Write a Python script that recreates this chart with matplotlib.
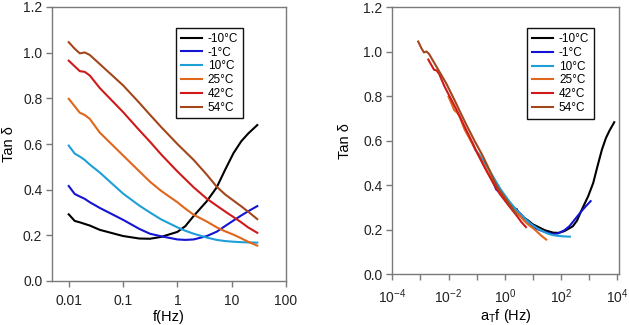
"""Tan delta vs frequency for six temperatures, raw sweep and shifted master curve."""

import numpy as np
import matplotlib
matplotlib.use("Agg")
import matplotlib.pyplot as plt

# ---------------------------------------------------------------------------
# Data
# ---------------------------------------------------------------------------

temperatures = ["-10°C", "-1°C", "10°C", "25°C", "42°C", "54°C"]
colors = ["#000000", "#1414d4", "#1e9fd8", "#e0661c", "#d01a1a", "#a4461c"]

freq_hz = [0.01, 0.0129, 0.016, 0.0197, 0.0244, 0.0373, 0.1, 0.2, 0.313,
           0.5, 1.0, 1.4, 2.0, 3.5, 5.3, 7.5, 10.8, 15.0, 20.0, 29.6]

tan_m10 = [0.292, 0.263, 0.257, 0.250, 0.243, 0.224, 0.197, 0.186, 0.185,
           0.193, 0.215, 0.240, 0.285, 0.350, 0.410, 0.485, 0.560, 0.612,
           0.645, 0.683]
tan_m1 = [0.416, 0.381, 0.370, 0.360, 0.345, 0.320, 0.268, 0.228, 0.207,
          0.196, 0.182, 0.180, 0.182, 0.197, 0.216, 0.240, 0.265, 0.287,
          0.305, 0.328]
tan_10 = [0.593, 0.558, 0.545, 0.530, 0.510, 0.475, 0.383, 0.330, 0.300,
          0.270, 0.235, 0.220, 0.207, 0.190, 0.180, 0.175, 0.172, 0.170,
          0.169, 0.168]
tan_25 = [0.798, 0.765, 0.737, 0.727, 0.710, 0.650, 0.550, 0.480, 0.435,
          0.395, 0.345, 0.317, 0.290, 0.260, 0.235, 0.218, 0.203, 0.187,
          0.172, 0.155]
tan_42 = [0.965, 0.940, 0.919, 0.916, 0.900, 0.845, 0.740, 0.660, 0.610,
          0.555, 0.480, 0.446, 0.410, 0.360, 0.330, 0.305, 0.280, 0.257,
          0.235, 0.211]
tan_54 = [1.046, 1.017, 0.997, 1.001, 0.990, 0.950, 0.857, 0.780, 0.728,
          0.675, 0.600, 0.566, 0.530, 0.465, 0.413, 0.380, 0.352, 0.327,
          0.304, 0.271]

# horizontal shift factors log10(aT), reference temperature 25 °C
log_shift = [2.42, 1.58, 0.84, 0.0, -0.72, -1.08]

left_ticks = [0.01, 0.1, 1, 10, 100]
left_tick_labels = ["0.01", "0.1", "1", "10", "100"]
right_tick_exps = [-4, -3, -2, -1, 0, 1, 2, 3, 4]
y_ticks = [0.0, 0.2, 0.4, 0.6, 0.8, 1.0, 1.2]

FRAME = "#7a7a7a"


def _style(ax):
    for sp in ax.spines.values():
        sp.set_color(FRAME)
        sp.set_linewidth(1.0)
    ax.tick_params(direction="out", length=4.5, width=1.0, color=FRAME,
                   labelsize=10, labelcolor="#222222")
    ax.tick_params(axis="x", pad=5)
    ax.tick_params(axis="y", pad=2.5)
    ax.set_ylim(0.0, 1.2)
    ax.set_yticks(y_ticks)
    ax.set_yticklabels([f"{v:.1f}" for v in y_ticks])
    ax.minorticks_off()


def _legend(ax, anchor):
    leg = ax.legend(loc="upper right", bbox_to_anchor=anchor, fontsize=8.5,
                    frameon=True, fancybox=False, edgecolor="#111111",
                    framealpha=1.0, borderpad=0.4, labelspacing=0.15,
                    handlelength=1.8, handletextpad=0.5, borderaxespad=0.0)
    leg.get_frame().set_linewidth(1.0)


def main():
    plt.rcParams["font.family"] = ["Liberation Sans", "DejaVu Sans"]
    plt.rcParams["mathtext.fontset"] = "custom"
    plt.rcParams["mathtext.rm"] = "Liberation Sans"
    plt.rcParams["mathtext.it"] = "Liberation Sans:italic"
    plt.rcParams["mathtext.default"] = "regular"

    series = [tan_m10, tan_m1, tan_10, tan_25, tan_42, tan_54]
    f = np.asarray(freq_hz)

    fig = plt.figure(figsize=(6.29, 3.25), dpi=100)
    ax1 = fig.add_axes([52 / 629, 44 / 325, 234 / 629, 274 / 325])
    ax2 = fig.add_axes([392.3 / 629, 51 / 325, 226.7 / 629, 266.7 / 325])

    # raw frequency sweeps
    for lab, col, vals in zip(temperatures, colors, series):
        ax1.plot(f, vals, color=col, lw=1.5, label=lab)
    ax1.set_xscale("log")
    ax1.set_xlim(0.00492, 100)
    _style(ax1)
    ax1.set_xticks(left_ticks)
    ax1.set_xticklabels(left_tick_labels)
    ax1.minorticks_off()
    ax1.set_xlabel("f(Hz)", fontsize=10.5, labelpad=1)
    ax1.set_ylabel("Tan δ", fontsize=10.5, labelpad=5)
    _legend(ax1, (0.816, 0.923))

    # time-temperature superposition
    for lab, col, vals, s in zip(temperatures, colors, series, log_shift):
        ax2.plot(f * 10.0 ** s, vals, color=col, lw=1.5, label=lab)
    ax2.set_xscale("log")
    ax2.set_xlim(1e-4, 10 ** 4.06)
    _style(ax2)
    ax2.set_xticks([10.0 ** e for e in right_tick_exps])
    ax2.set_xticklabels([f"$10^{{{e}}}$" if e % 2 == 0 else ""
                         for e in right_tick_exps])
    ax2.minorticks_off()
    ax2.set_xlabel("a$_T$f (Hz)", fontsize=10.5, labelpad=1)
    ax2.set_ylabel("Tan δ", fontsize=10.5, labelpad=8)
    _legend(ax2, (0.89, 0.921))

    fig.savefig("out.png", dpi=100)
    plt.close(fig)


if __name__ == "__main__":
    main()
